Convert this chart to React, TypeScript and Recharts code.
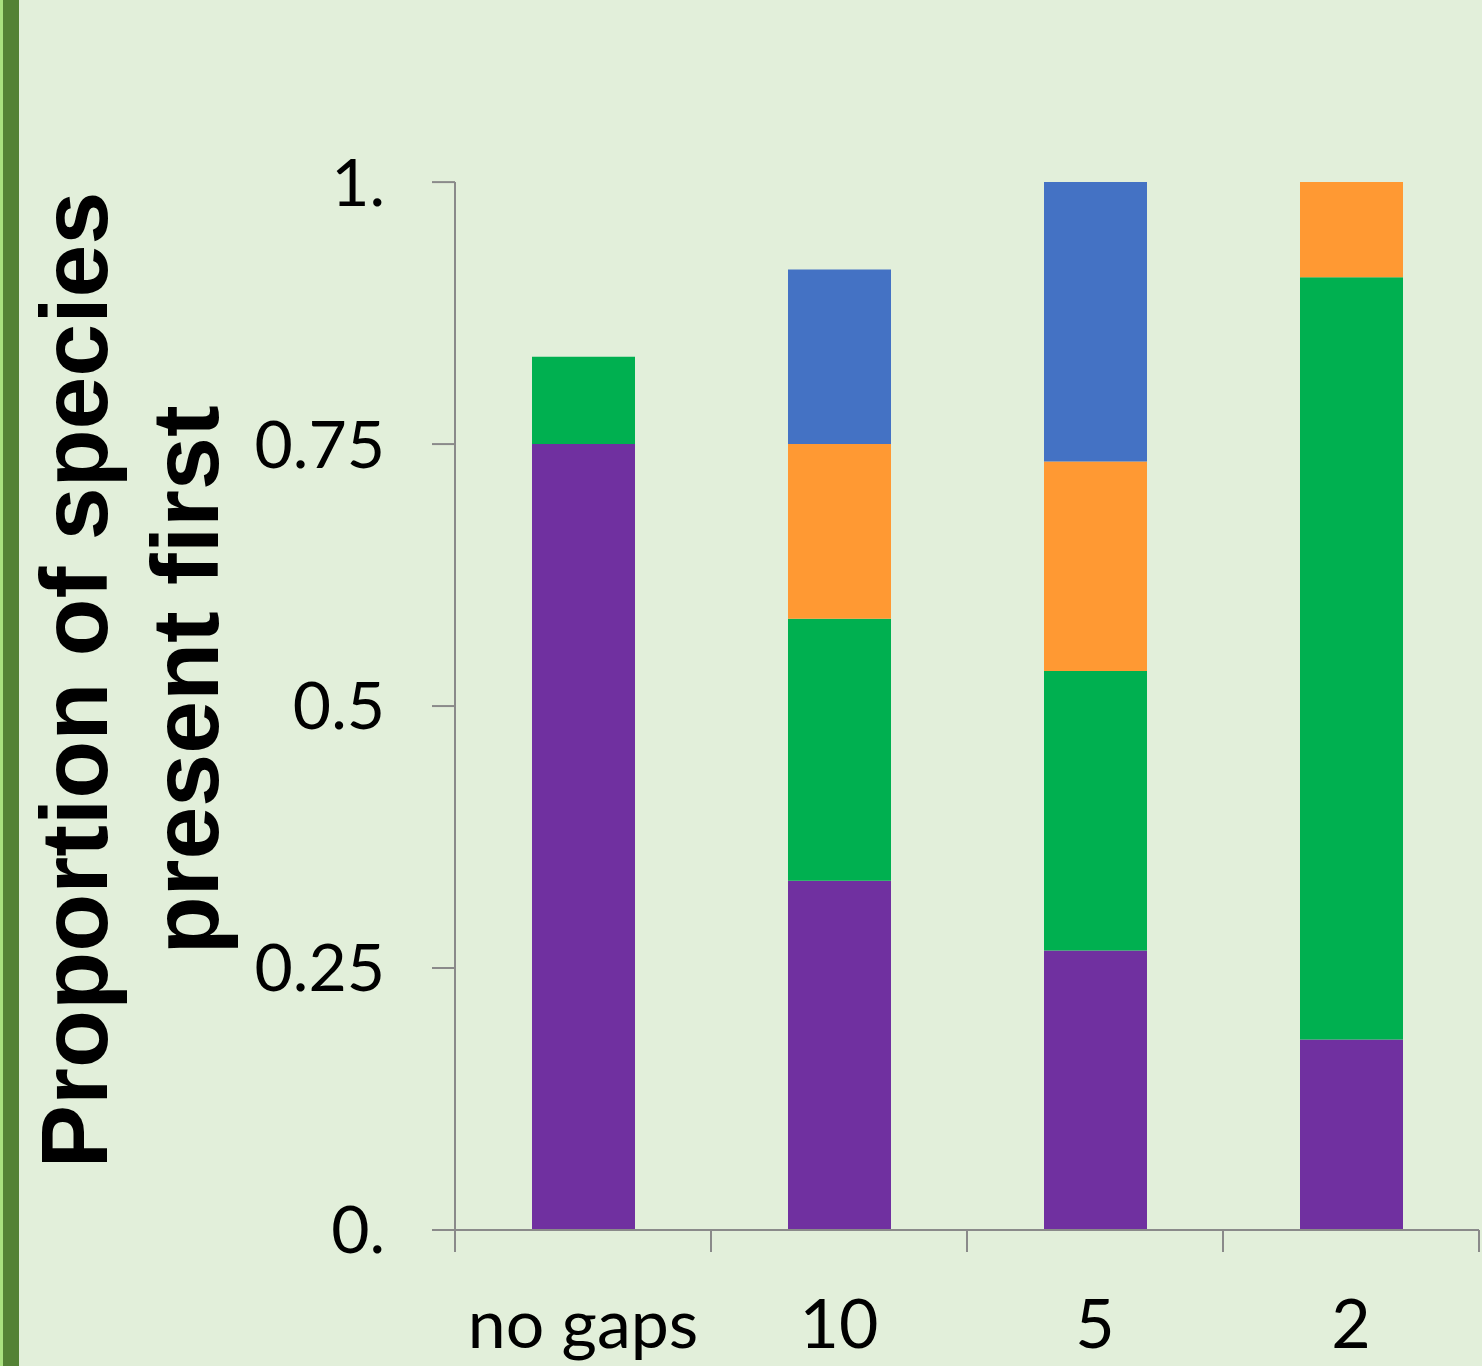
import { BarChart, Bar, XAxis, YAxis } from 'recharts';

const gapLabels = ['no gaps', '10', '5', '2'];
const firstPurple = [0.75, 0.3333, 0.2667, 0.1818];
const firstGreen = [0.0833, 0.25, 0.2667, 0.7273];
const firstOrange = [0, 0.1667, 0.2, 0.0909];
const firstBlue = [0, 0.1667, 0.2667, 0];

const yTicks = [0, 0.25, 0.5, 0.75, 1];
const yTickLabels = ['0.', '0.25', '0.5', '0.75', '1.'];
const titleLines = ['Proportion of species', 'present first'];

const data = gapLabels.map((gap, i) => ({
  gap,
  purple: firstPurple[i],
  green: firstGreen[i],
  orange: firstOrange[i],
  blue: firstBlue[i],
}));

const WIDTH = 1482;
const HEIGHT = 1366;
const AXIS_W = 455;
const TOP = 182;
const RIGHT = 3;
const X_AXIS_H = 136;
const BAND = (WIDTH - AXIS_W - RIGHT) / gapLabels.length;
const AXIS_COLOR = '#8a8a8a';
const TICK_FONT = 'Lato, "Open Sans", sans-serif';

const GapTick = (props: any) => {
  const { x, y, payload, index } = props;
  const last = index === gapLabels.length - 1;
  return (
    <g>
      <line x1={x - BAND / 2} x2={x - BAND / 2} y1={y} y2={y + 22} stroke={AXIS_COLOR} strokeWidth={2} />
      {last && (
        <line x1={x + BAND / 2} x2={x + BAND / 2} y1={y} y2={y + 22} stroke={AXIS_COLOR} strokeWidth={2} />
      )}
      <text x={x} y={y + 118} textAnchor="middle" fontSize={68} fontFamily={TICK_FONT} fill="#000">
        {payload.value}
      </text>
    </g>
  );
};

const AxisTitle = () => (
  <g fontFamily='"Liberation Sans", Arial, sans-serif' fontWeight="bold" fontSize={95} fill="#000">
    {titleLines.map((line, i) => {
      const bx = 107 + i * 111;
      const cy = 680;
      return (
        <text key={line} x={bx} y={cy} textAnchor="middle" transform={`rotate(-90, ${bx}, ${cy})`}>
          {line}
        </text>
      );
    })}
  </g>
);

export default function App() {
  return (
    <div
      style={{
        position: 'absolute',
        top: 0,
        left: 0,
        width: WIDTH,
        height: HEIGHT,
        background: '#e2efda',
        overflow: 'hidden',
      }}
    >
      <div style={{ position: 'absolute', left: 0, top: 0, width: 3, height: HEIGHT, background: '#a9e07f' }} />
      <div style={{ position: 'absolute', left: 3, top: 0, width: 16, height: HEIGHT, background: '#548235' }} />
      <BarChart
        width={WIDTH}
        height={HEIGHT}
        data={data}
        margin={{ top: TOP, right: RIGHT, bottom: 0, left: 0 }}
        barSize={103}
      >
        <XAxis
          dataKey="gap"
          height={X_AXIS_H}
          stroke={AXIS_COLOR}
          strokeWidth={2}
          tickLine={false}
          tickSize={0}
          tickMargin={0}
          tick={<GapTick />}
          interval={0}
        />
        <YAxis
          width={AXIS_W}
          domain={[0, 1]}
          ticks={yTicks}
          interval={0}
          stroke={AXIS_COLOR}
          strokeWidth={2}
          tickSize={23}
          tickMargin={47}
          tickFormatter={(v: number) => yTickLabels[yTicks.indexOf(v)]}
          tick={{ fontSize: 66, fontFamily: TICK_FONT, fill: '#000' }}
          label={{ content: () => <AxisTitle /> }}
        />
        <Bar dataKey="purple" stackId="s" fill="#7030a0" isAnimationActive={false} />
        <Bar dataKey="green" stackId="s" fill="#00b050" isAnimationActive={false} />
        <Bar dataKey="orange" stackId="s" fill="#ff9933" isAnimationActive={false} />
        <Bar dataKey="blue" stackId="s" fill="#4472c4" isAnimationActive={false} />
      </BarChart>
    </div>
  );
}
